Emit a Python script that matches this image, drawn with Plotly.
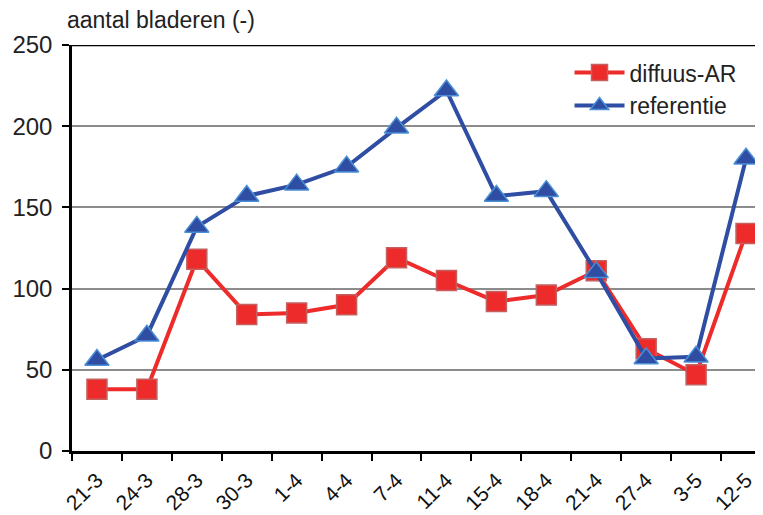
import plotly.graph_objects as go

dates = ['21-3', '24-3', '28-3', '30-3', '1-4', '4-4', '7-4',
         '11-4', '15-4', '18-4', '21-4', '27-4', '3-5', '12-5']
diffuus_ar = [38, 38, 118, 84, 85, 90, 119, 105, 92, 96, 111, 63, 47, 134]
referentie = [56, 71, 138, 157, 164, 175, 199, 222, 157, 160, 110, 57, 58, 180]

FONT = 'Liberation Sans, Arial, sans-serif'

fig = go.Figure()
fig.add_trace(go.Scatter(x=dates, y=diffuus_ar, name='diffuus-AR',
                         mode='lines+markers',
                         line=dict(color='#EE2B2B', width=4),
                         marker=dict(symbol='square', size=20, color='#EE2B2B',
                                     line=dict(color='#C46060', width=1.5))))
fig.add_trace(go.Scatter(x=dates, y=referentie, name='referentie',
                         mode='lines+markers',
                         line=dict(color='#2E4DA3', width=4),
                         marker=dict(symbol='triangle-up', size=21, color='#2E4DA3',
                                     line=dict(color='#4A8FD6', width=1.5))))

# black line across the top of the plot area
fig.add_shape(type='line', xref='paper', yref='y', x0=0, x1=1, y0=250, y1=250,
              line=dict(color='black', width=2.5))

# the page body has an 8px margin, so the figure is sized to fit the window
fig.update_layout(
    width=755, height=507,
    margin=dict(l=64, r=0, t=37, b=64),
    paper_bgcolor='white', plot_bgcolor='white',
    font=dict(family=FONT, color='#222222'),
    showlegend=True,
    legend=dict(x=0.72, y=0.985, xanchor='left', yanchor='top',
                font=dict(size=23, family=FONT), bgcolor='rgba(255,255,255,0)',
                tracegroupgap=0, itemwidth=50),
    annotations=[dict(text='aantal bladeren (-)', xref='paper', yref='paper',
                      x=-0.01, y=1.062, xanchor='left', yanchor='middle',
                      showarrow=False, font=dict(size=23, family=FONT, color='#222222'))],
)
fig.update_xaxes(type='category', range=[-0.5, 13.34], tickson='boundaries',
                 ticks='outside', ticklen=7, tickwidth=2, tickcolor='black',
                 showline=True, linecolor='black', linewidth=2.5,
                 showgrid=False, tickangle=-45, ticklabelstandoff=6,
                 automargin=False,
                 tickfont=dict(size=21, family=FONT, color='#111111'))
fig.update_yaxes(range=[0, 250], tickvals=[0, 50, 100, 150, 200, 250],
                 ticks='outside', ticklen=7, tickwidth=2, tickcolor='black',
                 showline=True, linecolor='black', linewidth=2.5,
                 showgrid=True, gridcolor='#8C8C8C', gridwidth=1.5,
                 zeroline=False, ticklabelstandoff=5, automargin=False,
                 tickfont=dict(size=24, family=FONT, color='#222222'))

fig.write_html('out.html')
